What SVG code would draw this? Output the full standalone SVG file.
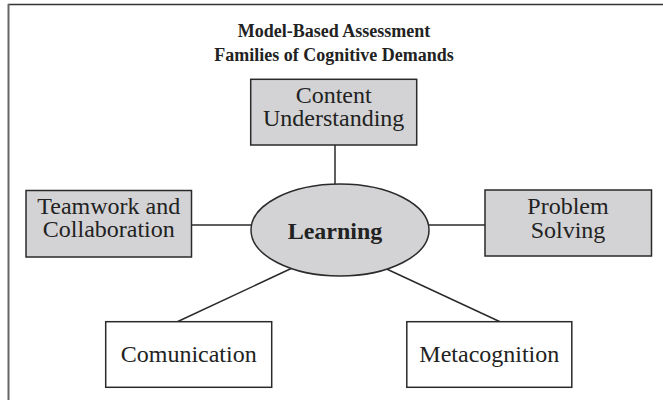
<svg xmlns="http://www.w3.org/2000/svg" width="663" height="400" viewBox="0 0 663 400">
<style>
  .box { stroke: #2a2a2a; stroke-width: 1.5; }
  .shaded { fill: #d3d3d5; }
  .plain { fill: #ffffff; }
  .lbl { font-family: "Liberation Serif", "Times New Roman", serif; font-size: 24px; fill: #222; text-anchor: middle; }
  .title { font-family: "Liberation Serif", "Times New Roman", serif; font-size: 18px; font-weight: bold; fill: #222; text-anchor: middle; }
  .conn { stroke: #2a2a2a; stroke-width: 1.5; fill: none; }
</style>
<rect x="0" y="0" width="663" height="400" fill="#ffffff"/>
<g id="frame">
  <line x1="8" y1="4.5" x2="663" y2="4.5" stroke="#333" stroke-width="1.6"/>
  <line x1="8.5" y1="4" x2="8.5" y2="400" stroke="#666" stroke-width="2"/>
</g>
<g id="title">
  <text class="title" x="334" y="36.5">Model-Based Assessment</text>
  <text class="title" x="334" y="61">Families of Cognitive Demands</text>
</g>
<g id="connectors">
  <line class="conn" x1="335" y1="145" x2="335" y2="184"/>
  <line class="conn" x1="191.5" y1="225" x2="251" y2="225"/>
  <line class="conn" x1="429" y1="225" x2="485" y2="225"/>
  <line class="conn" x1="291.7" y1="268.3" x2="177.3" y2="321.7"/>
  <line class="conn" x1="385" y1="268.3" x2="500" y2="321.7"/>
</g>
<g id="content">
  <rect class="box shaded" x="250.7" y="79.3" width="166" height="65.7"/>
  <text class="lbl" x="333.7" y="102.5">Content</text>
  <text class="lbl" x="333.7" y="126">Understanding</text>
</g>
<g id="teamwork">
  <rect class="box shaded" x="26" y="190.5" width="165.5" height="66.5"/>
  <text class="lbl" x="108.8" y="213.5">Teamwork and</text>
  <text class="lbl" x="108.8" y="237">Collaboration</text>
</g>
<g id="problem">
  <rect class="box shaded" x="485" y="190" width="166.5" height="66"/>
  <text class="lbl" x="568" y="214">Problem</text>
  <text class="lbl" x="568" y="237.5">Solving</text>
</g>
<g id="learning">
  <ellipse class="box shaded" cx="340" cy="230" rx="89" ry="46"/>
  <text class="lbl" x="335" y="239" font-weight="bold">Learning</text>
</g>
<g id="communication">
  <rect class="box plain" x="105.7" y="321.7" width="166" height="65.6"/>
  <text class="lbl" x="188.7" y="361.7">Comunication</text>
</g>
<g id="metacognition">
  <rect class="box plain" x="406.8" y="321.7" width="165" height="65.6"/>
  <text class="lbl" x="489.3" y="361.7">Metacognition</text>
</g>
</svg>
